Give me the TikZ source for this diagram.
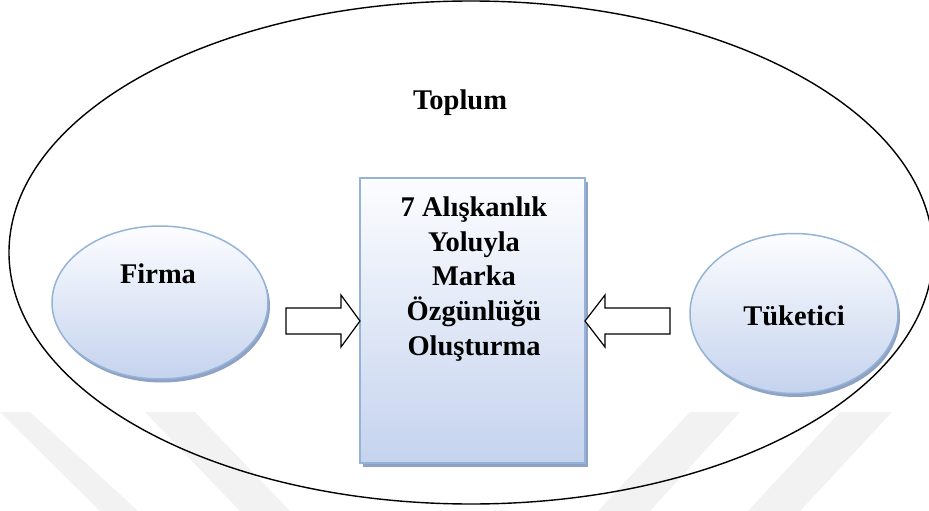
\documentclass[tikz,border=0pt]{standalone}
\usepackage{fontspec}
\setmainfont{Liberation Serif}
\usetikzlibrary{shapes.geometric}
\definecolor{rim}{HTML}{95B3D7}
\definecolor{filltop}{HTML}{FCFDFF}
\definecolor{fillbot}{HTML}{C5D3EE}
\definecolor{shade}{HTML}{8FA2C3}
\definecolor{mark}{HTML}{F2F2F2}
\tikzset{
  lbl/.style={font=\fontsize{28.5}{34.6}\selectfont\bfseries, inner sep=0pt, align=center},
  bubble/.style={ellipse, draw=rim, line width=1.5pt, top color=filltop, bottom color=fillbot, inner sep=0pt, outer sep=0pt},
  bubbleshadow/.style={ellipse, fill=shade, inner sep=0pt, outer sep=0pt},
  panel/.style={rectangle, draw=rim, line width=1.5pt, top color=filltop, bottom color=fillbot, inner sep=0pt, outer sep=0pt},
  panelshadow/.style={rectangle, fill=shade, inner sep=0pt, outer sep=0pt},
  society/.style={ellipse, draw=black, line width=1.4pt, inner sep=0pt, outer sep=0pt},
  blockarrow/.style={draw=black, fill=white, line width=1.2pt, line join=miter},
  stripe/.style={fill=mark, draw=none},
}
\begin{document}
\begin{tikzpicture}[x=1pt,y=-1pt]
\fill[white] (0,0) rectangle (929,511);
\useasboundingbox (0,0) rectangle (929,511);

% faint diagonal band pattern in the lower part
\fill[stripe] (0,412) -- (30,412) -- (138,511) -- (100,511) -- cycle;
\fill[stripe] (145,412) -- (195,412) -- (290,511) -- (240,511) -- cycle;
\fill[stripe] (690,412) -- (740,412) -- (650,511) -- (598,511) -- cycle;
\fill[stripe] (840,412) -- (892,412) -- (800,511) -- (748,511) -- cycle;

% surrounding society ellipse
\node[society, minimum width=924pt, minimum height=503pt] (society) at (471,252.5) {};
\node[lbl, anchor=base] (toplum) at (460,110) {Toplum};

% firm
\node[bubbleshadow, minimum width=216pt, minimum height=153pt] (firmashadow) at (162,306) {};
\node[bubble, minimum width=216pt, minimum height=153pt] (firma) at (160,302.5) {};
\node[lbl, anchor=base] (firmatext) at (158,283) {Firma};

% consumer
\node[bubbleshadow, minimum width=208pt, minimum height=160pt] (tuketicishadow) at (796,317) {};
\node[bubble, minimum width=208pt, minimum height=160pt] (tuketici) at (794,313.5) {};
\node[lbl, anchor=base] (tuketicitext) at (794,325) {Tüketici};

% central box
\node[panelshadow, minimum width=225pt, minimum height=285pt] (boxshadow) at (475.5,324.5) {};
\node[panel, minimum width=225pt, minimum height=285pt] (box) at (472.5,320.5) {};
\node[lbl, anchor=base] (boxtext) at (474,355) {7 Alışkanlık\\Yoluyla\\Marka\\Özgünlüğü\\Oluşturma};

% block arrows pointing at the box
\draw[blockarrow] (286,308) -- (341,308) -- (341,295) -- (box.west |- 0,321) -- (341,347) -- (341,334) -- (286,334) -- cycle;
\draw[blockarrow] (670,308) -- (605,308) -- (605,295) -- (box.east |- 0,321) -- (605,347) -- (605,334) -- (670,334) -- cycle;
\end{tikzpicture}
\end{document}
